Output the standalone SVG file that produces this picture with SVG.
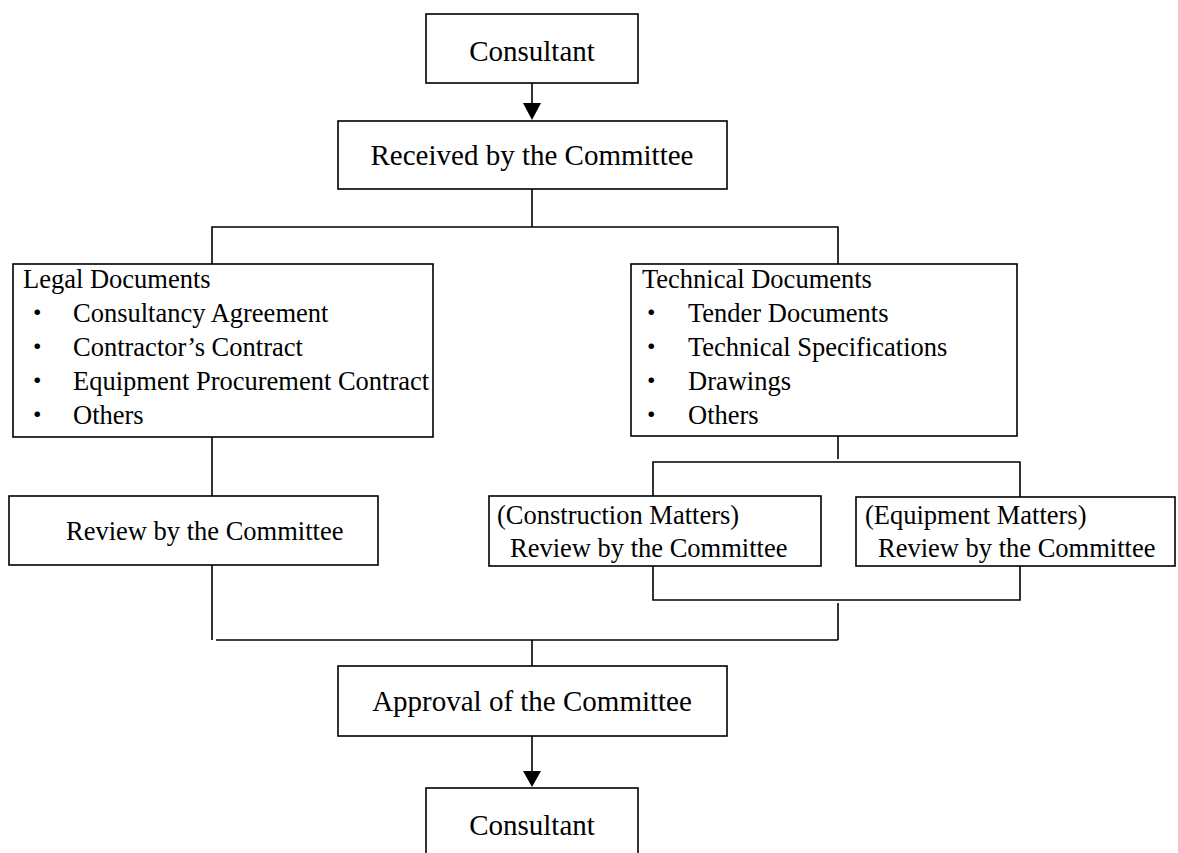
<svg xmlns="http://www.w3.org/2000/svg" width="1178" height="853" viewBox="0 0 1178 853">
  <style>
    .box { fill: #ffffff; stroke: #000000; stroke-width: 1.6; }
    .wire { fill: none; stroke: #000000; stroke-width: 1.6; }
    .head { fill: #000000; stroke: none; }
    text { font-family: "Liberation Serif", "Times New Roman", "Noto Sans CJK JP", serif; fill: #000000; }
    .big { font-size: 29px; }
    .mid { font-size: 26.5px; }
    .c { text-anchor: middle; }
  </style>

  <!-- connectors -->
  <g id="connectors">
    <!-- Consultant -> Received -->
    <line class="wire" x1="532" y1="83" x2="532" y2="104"/>
    <path class="head" d="M523,103 L541,103 L532,120 Z"/>
    <!-- Received -> branch bus -->
    <polyline class="wire" points="532,189 532,227"/>
    <polyline class="wire" points="212,264 212,227 838,227 838,264"/>
    <!-- Legal -> Review -->
    <line class="wire" x1="212" y1="437" x2="212" y2="496"/>
    <!-- Technical -> split -->
    <line class="wire" x1="838" y1="436" x2="838" y2="459"/>
    <polyline class="wire" points="653,496 653,462 1020,462 1020,497"/>
    <!-- join of the two technical reviews -->
    <polyline class="wire" points="653,566 653,600 1020,600 1020,566"/>
    <line class="wire" x1="838" y1="603" x2="838" y2="640"/>
    <!-- Review -> bottom bus -->
    <line class="wire" x1="212" y1="565" x2="212" y2="640"/>
    <line class="wire" x1="216" y1="640" x2="838" y2="640"/>
    <line class="wire" x1="532" y1="640" x2="532" y2="666"/>
    <!-- Approval -> Consultant -->
    <line class="wire" x1="532" y1="736" x2="532" y2="772"/>
    <path class="head" d="M523,771 L541,771 L532,787 Z"/>
  </g>

  <g id="consultant-top">
    <rect class="box" x="426" y="14" width="212" height="69"/>
    <text class="big c" x="532" y="61">Consultant</text>
  </g>

  <g id="received">
    <rect class="box" x="338" y="121" width="389" height="68"/>
    <text class="big c" x="532" y="165">Received by the Committee</text>
  </g>

  <g id="legal-documents">
    <rect class="box" x="13" y="264" width="420" height="173"/>
    <text class="mid" x="23" y="288">Legal Documents</text>
    <text class="mid" x="24" y="322">・</text>
    <text class="mid" x="73" y="322">Consultancy Agreement</text>
    <text class="mid" x="24" y="356">・</text>
    <text class="mid" x="73" y="356">Contractor’s Contract</text>
    <text class="mid" x="24" y="390">・</text>
    <text class="mid" x="73" y="390">Equipment Procurement Contract</text>
    <text class="mid" x="24" y="424">・</text>
    <text class="mid" x="73" y="424">Others</text>
  </g>

  <g id="technical-documents">
    <rect class="box" x="631" y="264" width="386" height="172"/>
    <text class="mid" x="642" y="288">Technical Documents</text>
    <text class="mid" x="638" y="322">・</text>
    <text class="mid" x="688" y="322">Tender Documents</text>
    <text class="mid" x="638" y="356">・</text>
    <text class="mid" x="688" y="356">Technical Specifications</text>
    <text class="mid" x="638" y="390">・</text>
    <text class="mid" x="688" y="390">Drawings</text>
    <text class="mid" x="638" y="424">・</text>
    <text class="mid" x="688" y="424">Others</text>
  </g>

  <g id="review-legal">
    <rect class="box" x="9" y="496" width="369" height="69"/>
    <text class="mid" x="66" y="540">Review by the Committee</text>
  </g>

  <g id="review-construction">
    <rect class="box" x="489" y="496" width="332" height="70"/>
    <text class="mid" x="497" y="524">(Construction Matters)</text>
    <text class="mid" x="510" y="557">Review by the Committee</text>
  </g>

  <g id="review-equipment">
    <rect class="box" x="856" y="497" width="319" height="69"/>
    <text class="mid" x="865" y="524">(Equipment Matters)</text>
    <text class="mid" x="878" y="557">Review by the Committee</text>
  </g>

  <g id="approval">
    <rect class="box" x="338" y="666" width="389" height="70"/>
    <text class="big c" x="532" y="711">Approval of the Committee</text>
  </g>

  <g id="consultant-bottom">
    <rect class="box" x="426" y="788" width="212" height="80"/>
    <text class="big c" x="532" y="835">Consultant</text>
  </g>
</svg>
